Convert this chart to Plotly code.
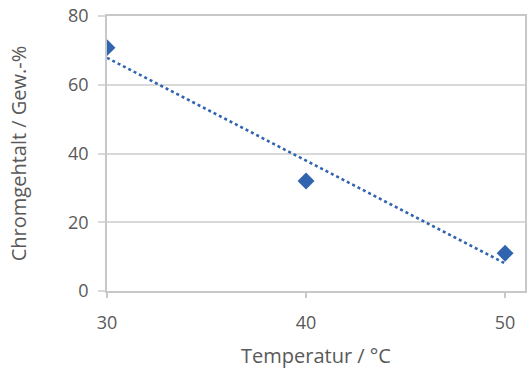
import numpy as np
import plotly.graph_objects as go

temperature = [30, 40, 50]
chromgehalt = [70.8, 32.0, 11.0]
x_ticks = [30, 40, 50]
y_ticks = [0, 20, 40, 60, 80]

blue = "#3064AE"
grid = "#D9D9D9"
axis_c = "#C8C8C8"
txt = "#595959"
font_family = "Open Sans, Liberation Sans, sans-serif"

# linear trendline (least squares) over the data
slope, intercept = np.polyfit(temperature, chromgehalt, 1)
trend_x = [min(temperature), max(temperature)]
trend_y = [slope * v + intercept for v in trend_x]

fig = go.Figure()
fig.add_trace(go.Scatter(x=trend_x, y=trend_y, mode="lines",
                         line=dict(color=blue, width=2.6, dash="dot"),
                         hoverinfo="skip", showlegend=False))
fig.add_trace(go.Scatter(x=temperature, y=chromgehalt, mode="markers",
                         marker=dict(symbol="diamond", size=13, color=blue),
                         showlegend=False))

fig.update_layout(
    width=532, height=370,
    margin=dict(l=107, r=7, t=16, b=79),
    paper_bgcolor="white", plot_bgcolor="white",
    font=dict(family=font_family, color=txt, size=18),
    xaxis=dict(range=[30, 51], tickvals=x_ticks, showgrid=False, automargin=False,
               showline=True, linecolor=axis_c, linewidth=1.5, mirror=True,
               ticks="outside", ticklen=5, tickcolor=axis_c, tickwidth=1.5,
               ticklabelstandoff=10,
               zeroline=False, tickfont=dict(size=18, color=txt),
               title=dict(text="Temperatur / °C", font=dict(size=20, color=txt), standoff=16)),
    yaxis=dict(range=[0, 80], tickvals=y_ticks, showgrid=True, gridcolor=grid, gridwidth=1.5,
               showline=True, linecolor=axis_c, linewidth=1.5, mirror=True, automargin=False,
               ticks="outside", ticklen=7, tickcolor=grid, tickwidth=1.5,
               ticklabelstandoff=6,
               zeroline=False, tickfont=dict(size=18, color=txt),
               title=dict(text="Chromgehtalt / Gew.-%", font=dict(size=20, color=txt), standoff=36)),
)

fig.write_html("out.html", config={"displayModeBar": False},
               post_script="document.body.style.margin='0';")
